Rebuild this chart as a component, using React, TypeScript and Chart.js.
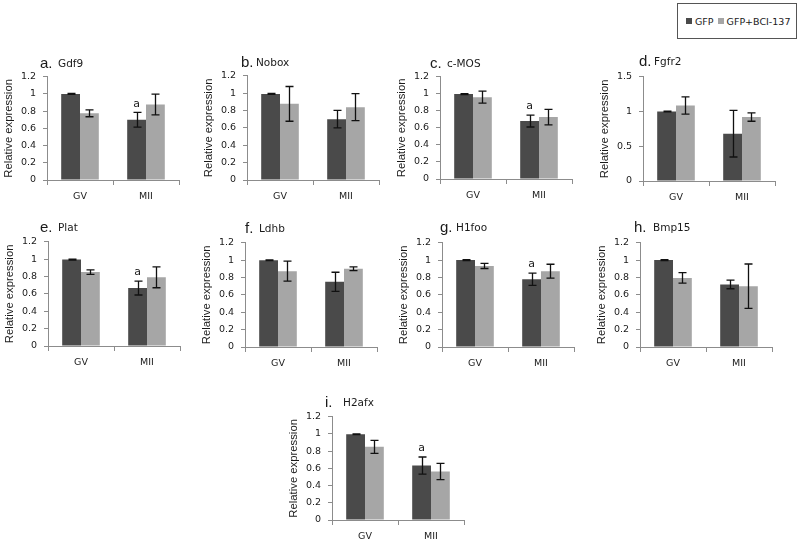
import React, { useEffect, useRef } from "react";
import { Chart, registerables } from "chart.js";

Chart.register(...registerables);

// ---- data ----
const letters = ["a.", "b.", "c.", "d.", "e.", "f.", "g.", "h.", "i."];
const genes = ["Gdf9", "Nobox", "c-MOS", "Fgfr2", "Plat", "Ldhb", "H1foo", "Bmp15", "H2afx"];
const stages = ["GV", "MII"];
const seriesNames = ["GFP", "GFP+BCI-137"];

const gfpMean = [
  [1.0, 0.7], [0.99, 0.7], [0.996, 0.68], [1.0, 0.68], [0.994, 0.667],
  [0.998, 0.75], [1.0, 0.78], [1.0, 0.72], [0.996, 0.632],
];
const gfpErr = [
  [0.005, 0.085], [0.005, 0.1], [0.005, 0.07], [0.005, 0.335], [0.005, 0.08],
  [0.005, 0.11], [0.005, 0.07], [0.005, 0.05], [0.005, 0.1],
];
const bciMean = [
  [0.775, 0.877], [0.876, 0.838], [0.96, 0.726], [1.086, 0.919], [0.85, 0.79],
  [0.872, 0.9], [0.933, 0.872], [0.795, 0.7], [0.85, 0.563],
];
const bciErr = [
  [0.04, 0.12], [0.2, 0.155], [0.07, 0.09], [0.125, 0.06], [0.025, 0.12],
  [0.115, 0.022], [0.03, 0.08], [0.06, 0.255], [0.075, 0.095],
];
// significance mark on GFP (dark) bar per stage
const gfpMarks = [
  ["", "a"], ["", ""], ["", "a"], ["", ""], ["", "a"],
  ["", ""], ["", "a"], ["", ""], ["", "a"],
];
const yMax = [1.2, 1.2, 1.2, 1.5, 1.2, 1.2, 1.2, 1.2, 1.2];
const yStep = [0.2, 0.2, 0.2, 0.5, 0.2, 0.2, 0.2, 0.2, 0.2];
const yTicks12 = ["0", "0.2", "0.4", "0.6", "0.8", "1", "1.2"];
const yTicks15 = ["0", "0.5", "1", "1.5"];

// ---- layout (positions only) ----
const layoutPos = [
  { ax: 47, top: 76, bot: 180, lx: 40, gx: 58, base: 68 },
  { ax: 247, top: 75, bot: 180, lx: 241, gx: 256, base: 67 },
  { ax: 440, top: 76, bot: 179, lx: 430, gx: 447, base: 68 },
  { ax: 643, top: 76, bot: 181, lx: 639, gx: 654, base: 66 },
  { ax: 48, top: 241, bot: 346, lx: 40, gx: 58, base: 232 },
  { ax: 245, top: 242, bot: 347, lx: 245, gx: 259, base: 233 },
  { ax: 442, top: 242, bot: 347, lx: 440, gx: 456, base: 232 },
  { ax: 640, top: 242, bot: 347, lx: 634, gx: 653, base: 232 },
  { ax: 332, top: 416, bot: 520, lx: 325, gx: 343, base: 407 },
];

const DARK = "#4a4a4a";
const LIGHT = "#a6a6a6";
const AXIS = "#8c8c8c";
const TXT = "#1a1a1a";
const FONT = "'DejaVu Sans', sans-serif";

const PAD_TOP = 12;
const Y_W = 47;
const X_H = 30;
const AREA_W = 132;
const PAD_R = 10;

function Panel({ idx }: { idx: number }) {
  const ref = useRef<HTMLCanvasElement | null>(null);
  const p = layoutPos[idx];
  const width = Y_W + AREA_W + PAD_R;
  const height = PAD_TOP + (p.bot - p.top) + X_H;

  useEffect(() => {
    if (!ref.current) return;
    const errs = [gfpErr[idx], bciErr[idx]];
    const marks = [gfpMarks[idx], ["", ""]];
    const tickLabels = yMax[idx] === 1.5 ? yTicks15 : yTicks12;
    const errorBars = {
      id: "errorBars" + idx,
      afterDatasetsDraw(chart: any) {
        const { ctx } = chart;
        const ys = chart.scales.y;
        errs.forEach((e, d) => {
          const meta = chart.getDatasetMeta(d);
          meta.data.forEach((bar: any, i: number) => {
            const v = chart.data.datasets[d].data[i] as number;
            const yt = ys.getPixelForValue(v + e[i]);
            const yb = ys.getPixelForValue(v - e[i]);
            const x = Math.round(bar.x) + 0.5;
            ctx.save();
            ctx.strokeStyle = "#111";
            ctx.lineWidth = 1.3;
            ctx.beginPath();
            ctx.moveTo(x, yt);
            ctx.lineTo(x, yb);
            ctx.moveTo(x - 4, yt);
            ctx.lineTo(x + 4, yt);
            ctx.moveTo(x - 4, yb);
            ctx.lineTo(x + 4, yb);
            ctx.stroke();
            const m = marks[d][i];
            if (m) {
              ctx.fillStyle = TXT;
              ctx.font = "11px " + FONT;
              ctx.textAlign = "center";
              ctx.textBaseline = "bottom";
              ctx.fillText(m, bar.x, yt - 3);
            }
            ctx.restore();
          });
        });
      },
    };
    const chart = new Chart(ref.current, {
      type: "bar",
      data: {
        labels: stages,
        datasets: [
          {
            label: seriesNames[0],
            data: gfpMean[idx],
            backgroundColor: DARK,
            borderWidth: 0,
            categoryPercentage: 0.57,
            barPercentage: 1,
          },
          {
            label: seriesNames[1],
            data: bciMean[idx],
            backgroundColor: LIGHT,
            borderWidth: 0,
            categoryPercentage: 0.57,
            barPercentage: 1,
          },
        ],
      },
      options: {
        animation: false,
        responsive: false,
        maintainAspectRatio: false,
        layout: { padding: { top: PAD_TOP, right: PAD_R, bottom: 0, left: 0 } },
        plugins: { legend: { display: false }, tooltip: { enabled: false } },
        scales: {
          x: {
            type: "category",
            grid: { offset: true, drawOnChartArea: false, tickLength: 5, color: AXIS },
            border: { color: AXIS },
            ticks: { font: { family: FONT, size: 9.5 }, color: TXT, padding: 6, maxRotation: 0 },
            afterFit: (s: any) => {
              s.height = X_H;
            },
          },
          y: {
            min: 0,
            max: yMax[idx],
            ticks: {
              stepSize: yStep[idx],
              font: { family: FONT, size: 9.5 },
              color: TXT,
              padding: 7,
              callback: (_v: any, i: number) => tickLabels[i],
            },
            grid: { drawOnChartArea: false, tickLength: 4, color: AXIS },
            border: { color: AXIS },
            title: {
              display: true,
              text: "Relative expression",
              font: { family: "'Liberation Sans', Arial, sans-serif", size: 11.3 },
              color: TXT,
              padding: { top: 2, bottom: 0 },
            },
            afterFit: (s: any) => {
              s.width = Y_W;
            },
          },
        },
      },
      plugins: [errorBars],
    } as any);
    return () => chart.destroy();
  }, [idx]);

  return (
    <>
      <canvas
        ref={ref}
        width={width}
        height={height}
        style={{ position: "absolute", left: p.ax - Y_W, top: p.top - PAD_TOP, width, height }}
      />
      <span
        style={{
          position: "absolute",
          left: p.lx,
          top: p.base - 12.7,
          fontFamily: "'Liberation Sans', Arial, sans-serif",
          fontSize: 15,
          lineHeight: "15px",
          color: TXT,
          whiteSpace: "nowrap",
        }}
      >
        {letters[idx]}
      </span>
      <span
        style={{
          position: "absolute",
          left: p.gx,
          top: p.base - 9.8,
          fontFamily: FONT,
          fontSize: 10.5,
          lineHeight: "10.5px",
          color: TXT,
          whiteSpace: "nowrap",
        }}
      >
        {genes[idx]}
      </span>
    </>
  );
}

function Legend() {
  const sq = (c: string) => (
    <span style={{ display: "inline-block", width: 6, height: 6, background: c, marginRight: 3 }} />
  );
  return (
    <div
      style={{
        position: "absolute",
        left: 677,
        top: 3,
        width: 120,
        height: 36,
        border: "1px solid #555",
        boxSizing: "border-box",
        display: "flex",
        alignItems: "center",
        paddingLeft: 8,
        fontFamily: FONT,
        fontSize: 9.5,
        color: TXT,
        whiteSpace: "nowrap",
      }}
    >
      {sq(DARK)}
      <span style={{ marginRight: 4 }}>{seriesNames[0]}</span>
      {sq(LIGHT)}
      <span>{seriesNames[1]}</span>
    </div>
  );
}

export default function App() {
  return (
    <div style={{ position: "absolute", left: 0, top: 0, width: 800, height: 543, background: "#fff" }}>
      <Legend />
      {genes.map((_g, i) => (
        <Panel key={i} idx={i} />
      ))}
    </div>
  );
}
